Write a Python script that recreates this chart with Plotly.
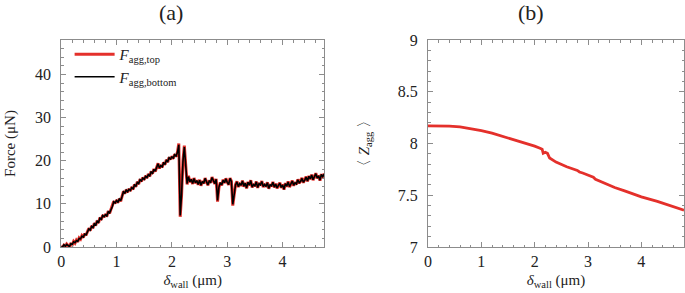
import numpy as np
import plotly.graph_objects as go

# ---------------- data ----------------
# Panel (a): force vs wall displacement, sampled every 0.025 um from 0 to 4.8 um
force_x = np.round(np.arange(0, 193) * 0.025, 4)

force_top = [
    0.2, 0.0, 0.4, 0.1, 0.7, 0.3, 0.0, 0.9, 0.5, 1.3, 0.9, 1.6, 1.2, 2.1, 1.8, 2.6, 2.2, 3.1, 2.7, 3.6,
    4.3, 3.8, 4.9, 4.4, 5.5, 5.0, 6.1, 5.6, 6.8, 6.3, 7.4, 6.9, 7.6, 7.1, 8.3, 7.8, 8.7, 9.3, 10.6, 10.1,
    10.9, 10.3, 11.2, 10.6, 11.8, 12.9, 12.4, 13.3, 12.7, 13.5, 13.0, 13.9, 13.4, 14.5, 14.0, 15.1, 14.6, 15.7, 15.2, 16.1,
    15.6, 16.5, 16.0, 16.9, 16.4, 17.5, 17.0, 18.1, 17.5, 18.6, 19.4, 18.2, 19.0, 18.5, 19.6, 19.1, 20.2, 19.7, 20.8, 20.3,
    21.0, 20.5, 21.5, 21.0, 22.0, 24.0, 7.0, 12.0, 20.0, 23.5, 18.0, 14.5, 16.5, 15.0, 15.8, 14.6, 16.0, 14.8, 15.5, 14.4,
    15.6, 14.2, 15.3, 14.7, 16.0, 15.1, 14.3, 15.4, 14.9, 16.2, 15.2, 14.6, 15.8, 10.5, 13.8, 15.0, 14.3, 15.6, 14.8, 15.9,
    15.1, 14.4, 16.0, 15.3, 9.6, 12.8, 14.5, 15.2, 13.9, 14.8, 14.2, 15.4, 14.0, 14.9, 13.6, 15.1, 14.3, 15.5, 13.8, 14.6,
    14.1, 15.2, 13.7, 14.8, 14.3, 15.3, 13.9, 14.6, 14.0, 15.0, 13.5, 14.5, 14.1, 15.1, 13.8, 14.7, 13.6, 14.4, 14.9, 13.7,
    14.5, 13.3, 14.8, 14.0, 15.2, 13.9, 14.6, 15.4, 14.2, 15.0, 14.5, 15.7, 14.8, 15.3, 16.0, 14.9, 15.6, 16.3, 15.2, 16.5,
    15.7, 16.8, 15.5, 16.4, 17.1, 15.9, 16.6, 15.4, 16.9, 16.2, 17.0, 15.8, 16.6,
]

force_bottom = [
    0.1, 0.0, 0.5, 0.2, 0.6, 0.3, 0.1, 0.8, 0.6, 1.2, 1.0, 1.5, 1.3, 2.0, 1.9, 2.5, 2.3, 3.0, 2.8, 3.5,
    4.2, 3.9, 4.8, 4.5, 5.4, 5.1, 6.0, 5.7, 6.7, 6.4, 7.3, 7.0, 7.5, 7.2, 8.2, 7.9, 8.6, 9.4, 10.5, 10.2,
    10.8, 10.4, 11.1, 10.7, 11.7, 12.8, 12.5, 13.2, 12.8, 13.4, 13.1, 13.8, 13.5, 14.4, 14.1, 15.0, 14.7, 15.6, 15.3, 16.0,
    15.7, 16.4, 16.1, 16.8, 16.5, 17.4, 17.1, 18.0, 17.6, 18.5, 19.3, 18.3, 18.9, 18.6, 19.5, 19.2, 20.1, 19.8, 20.7, 20.4,
    20.9, 20.6, 21.4, 21.1, 21.9, 23.7, 7.3, 12.2, 19.8, 23.2, 17.8, 14.7, 16.3, 15.1, 15.7, 14.7, 15.9, 14.9, 15.4, 14.5,
    15.5, 14.3, 15.2, 14.8, 15.9, 15.2, 14.4, 15.3, 15.0, 16.1, 15.3, 14.7, 15.7, 10.8, 13.9, 14.9, 14.4, 15.5, 14.9, 15.8,
    15.0, 14.5, 15.9, 15.2, 9.9, 12.9, 14.4, 15.1, 14.0, 14.7, 14.3, 15.3, 14.1, 14.8, 13.7, 15.0, 14.4, 15.4, 13.9, 14.5,
    14.2, 15.1, 13.8, 14.7, 14.4, 15.2, 14.0, 14.5, 14.1, 14.9, 13.6, 14.4, 14.2, 15.0, 13.9, 14.6, 13.7, 14.3, 14.8, 13.8,
    14.4, 13.4, 14.7, 14.1, 15.1, 14.0, 14.5, 15.3, 14.3, 14.9, 14.6, 15.6, 14.9, 15.2, 15.9, 15.0, 15.5, 16.2, 15.3, 16.4,
    15.8, 16.7, 15.6, 16.3, 17.0, 16.0, 16.5, 15.5, 16.8, 16.3, 16.9, 15.9, 16.5,
]

# Panel (b): mean coordination number vs wall displacement
z_x = [0, 0.2, 0.4, 0.6, 0.8, 1.0, 1.2, 1.4, 1.6, 1.8, 2.0, 2.1, 2.14, 2.16, 2.2, 2.24, 2.28,
       2.4, 2.6, 2.8, 2.84, 2.9, 3.0, 3.1, 3.14, 3.3, 3.5, 3.7, 4.0, 4.3, 4.6, 4.8]
z_val = [8.17, 8.17, 8.168, 8.16, 8.145, 8.125, 8.10, 8.07, 8.04, 8.005, 7.975, 7.955, 7.945, 7.905,
         7.915, 7.905, 7.86, 7.82, 7.775, 7.74, 7.725, 7.715, 7.695, 7.675, 7.655, 7.62, 7.575,
         7.54, 7.485, 7.44, 7.39, 7.355]

x_ticks = [0, 1, 2, 3, 4]
force_ticks = [0, 10, 20, 30, 40]
z_ticks = [7, 7.5, 8, 8.5, 9]
z_tick_labels = ["7", "7.5", "8", "8.5", "9"]

# ---------------- figure ----------------
RED = "#e4302b"
FONT = "Liberation Serif"
FRAME = "#8c8c8c"
W, H = 685, 293

fig = go.Figure()
fig.add_trace(go.Scatter(x=force_x, y=force_top, mode="lines",
                         line=dict(color=RED, width=3),
                         name="<i>F</i><sub>agg,top</sub>", xaxis="x", yaxis="y"))
fig.add_trace(go.Scatter(x=force_x, y=force_bottom, mode="lines",
                         line=dict(color="black", width=1.6),
                         name="<i>F</i><sub>agg,bottom</sub>", xaxis="x", yaxis="y"))
fig.add_trace(go.Scatter(x=z_x, y=z_val, mode="lines",
                         line=dict(color=RED, width=2.8),
                         showlegend=False, xaxis="x2", yaxis="y2"))

def axis_common():
    return dict(showline=True, linecolor=FRAME, linewidth=1, mirror="allticks",
                ticks="inside", ticklen=5, tickcolor=FRAME, tickwidth=1,
                showgrid=False, zeroline=False,
                tickfont=dict(family=FONT, size=16, color="#222"),
                title_font=dict(family=FONT, size=15, color="#222"))

xa = axis_common()
xa.update(domain=[57.5 / W, 322 / W], range=[0, 4.75], tickvals=x_ticks,
          minor=dict(dtick=0.2, ticklen=2.5, tickcolor=FRAME, ticks="inside"),
          title=dict(text="<i>δ</i><sub>wall</sub> (μm)", standoff=5), anchor="y")
ya = axis_common()
ya.update(domain=[0, 1], range=[0, 48], tickvals=force_ticks, ticklabelstandoff=6,
          minor=dict(dtick=2, ticklen=2.5, tickcolor=FRAME, ticks="inside"),
          title=dict(text="Force (μN)", standoff=15), anchor="x")
xb = axis_common()
xb.update(domain=[426.5 / W, 684 / W], range=[0, 4.8], tickvals=x_ticks,
          minor=dict(dtick=0.2, ticklen=2.5, tickcolor=FRAME, ticks="inside"),
          title=dict(text="<i>δ</i><sub>wall</sub> (μm)", standoff=5), anchor="y2")
yb = axis_common()
yb.update(domain=[0, 1], range=[7, 9], tickvals=z_ticks, ticktext=z_tick_labels,
          ticklabelstandoff=6,
          minor=dict(dtick=0.1, ticklen=2.5, tickcolor=FRAME, ticks="inside"),
          title=dict(text="〈 <i>Z</i><sub>agg</sub> 〉", standoff=24), anchor="x2")

fig.update_layout(
    width=W, height=H,
    margin=dict(l=0, r=0, t=40, b=46),
    paper_bgcolor="white", plot_bgcolor="white",
    xaxis=xa, yaxis=ya, xaxis2=xb, yaxis2=yb,
    font=dict(family=FONT, size=15, color="#222"),
    legend=dict(x=66 / W, y=1.0 + 2 / 207, xanchor="left", yanchor="top",
                bgcolor="rgba(0,0,0,0)", font=dict(family=FONT, size=15, color="#222"),
                tracegroupgap=0, itemwidth=40),
    annotations=[
        dict(text="(a)", x=168 / W, y=1, xref="paper", yref="paper",
             xanchor="center", yanchor="middle",
             yshift=28, showarrow=False, font=dict(family=FONT, size=22, color="#222")),
        dict(text="(b)", x=530 / W, y=1, xref="paper", yref="paper",
             xanchor="center", yanchor="middle",
             yshift=28, showarrow=False, font=dict(family=FONT, size=22, color="#222")),
    ],
)

fig.write_html("out.html", config={"displayModeBar": False},
               post_script="document.body.style.margin='0';document.body.style.overflow='hidden';")
